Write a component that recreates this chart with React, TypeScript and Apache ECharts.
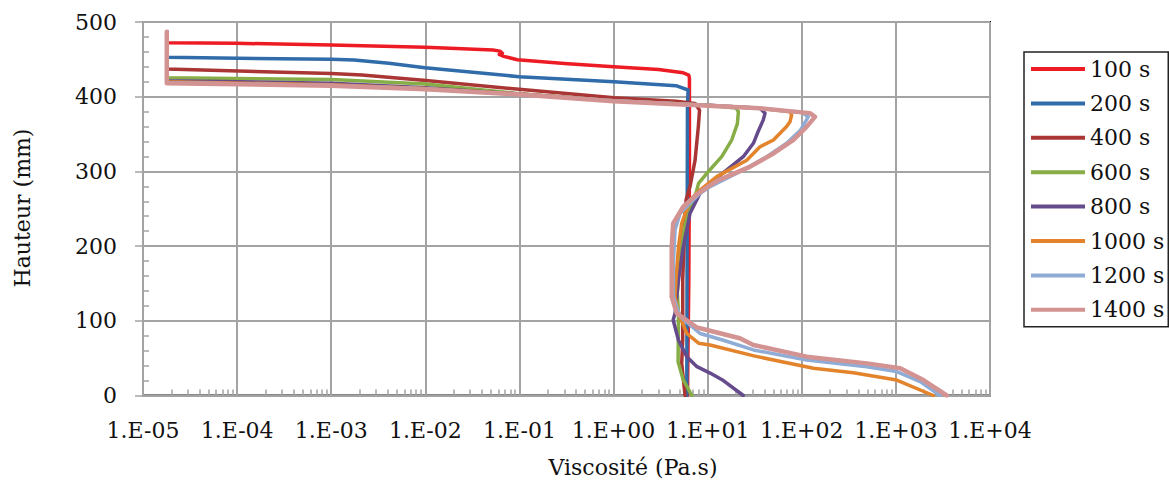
import React, { useEffect, useRef } from "react";
import * as echarts from "echarts";

const seriesNames = ["100 s", "200 s", "400 s", "600 s", "800 s", "1000 s", "1200 s", "1400 s"];
const seriesColors = ["#ED1C24", "#2F6CA9", "#A93634", "#86AD46", "#654A8C", "#E3842D", "#8EACD6", "#D39392"];

// [viscosity (Pa.s), height (mm)]
const s100 = [[1.79e-5, 487], [1.79e-5, 472.3], [9.7e-5, 471.5], [1.0e-3, 469.2], [1.0e-2, 466.1], [0.0524, 462.5], [0.062, 461], [0.066, 458], [0.061, 456.5], [0.068, 454], [0.095, 449.5], [0.3, 444.5], [1.0, 440], [3.0, 436.4], [5.5, 432], [6.3, 429], [6.4, 425], [6.4, 300], [6.3, 150], [6.1, 0]];
const s200 = [[1.79e-5, 487], [1.79e-5, 452.7], [1.0e-3, 450], [1.75e-3, 449], [4.1e-3, 444.7], [9.9e-3, 438.8], [0.099, 426.8], [1.01, 420], [4.6, 414.7], [6.2, 409], [6.1, 390], [6.05, 200], [6.0, 0]];
const s400 = [[1.79e-5, 487], [1.79e-5, 437], [1.0e-3, 431], [2.12e-3, 429], [9.5e-3, 422], [0.099, 410], [1.01, 398.6], [4.6, 394], [7.35, 391], [8.2, 382], [7.96, 360], [7.35, 315], [6.5, 280], [5.9, 262], [5.75, 244], [5.43, 155], [5.43, 74], [5.3, 43], [5.75, 0]];
const s600 = [[1.79e-5, 487], [1.79e-5, 425.5], [1e-3, 423], [1e-2, 417], [0.1, 404], [1, 394.5], [10, 388.5], [20, 385], [21.2, 380], [20.7, 364], [18, 342], [14.1, 319.7], [9.8, 297.5], [8.0, 284], [7.35, 266], [6.24, 244], [5.43, 217], [5.0, 181], [4.76, 137], [4.9, 110], [4.85, 45], [5.5, 20.8], [6.8, 0]];
const s800 = [[1.79e-5, 487], [1.79e-5, 421.5], [1e-3, 418], [1e-2, 412], [0.1, 403.5], [1, 394.5], [10, 388.5], [36, 384.5], [40.7, 378], [39, 369], [34, 352], [30.6, 337.6], [23.9, 319.7], [16, 302], [10.6, 284], [8.3, 270.7], [6.5, 244], [5.5, 199], [4.9, 155], [4.5, 110], [4.3, 101], [4.9, 74], [6.0, 52], [7.7, 38.6], [10.6, 30], [14.7, 20], [23.9, 0]];
const s1000 = [[1.79e-5, 487], [1.79e-5, 420], [1e-3, 416], [1e-2, 411], [0.1, 403.5], [1, 394.5], [10, 388.5], [36, 384.5], [75, 380], [78, 375.5], [75, 366.5], [69, 360], [50, 342], [36, 333], [26, 315], [12.5, 293], [8.3, 275], [6.5, 261.7], [5.3, 230.5], [4.9, 199], [4.6, 155], [4.5, 132], [4.9, 110], [6.0, 83], [8.0, 70], [10.6, 67.6], [31, 53], [133, 36.4], [353, 30.5], [1020, 20.7], [2500, 0]];
const s1200 = [[1.79e-5, 487], [1.79e-5, 419], [1e-3, 415], [1e-2, 410.5], [0.1, 403], [1, 394.5], [10, 388.5], [36, 384.5], [100, 379], [117, 373], [96.6, 355], [69, 337.6], [42.5, 319.7], [23.9, 302], [10.6, 279.5], [8.3, 270.7], [5.1, 244], [4.5, 221.5], [4.32, 177], [4.32, 132], [5.1, 105.5], [8.3, 83], [14.7, 74], [30.6, 61], [113, 47.5], [491, 38.6], [1020, 32], [1810, 18.5], [2950, 0]];
const s1400 = [[1.79e-5, 487], [1.79e-5, 418], [1e-3, 414.7], [1e-2, 410], [0.1, 403], [1, 394], [10.1, 388], [36, 384.5], [122, 378], [138, 373], [113, 360], [81, 342], [50, 324], [28, 306], [16, 293], [12.9, 288], [10.5, 281], [7.8, 270], [5.5, 252.7], [4.3, 230.5], [4.15, 199], [4.15, 132], [4.7, 110], [7.7, 91], [22, 76.6], [30.6, 67.6], [113, 52], [491, 43], [1110, 36.4], [1960, 20.7], [3470, 0]];

const seriesData = [s100, s200, s400, s600, s800, s1000, s1200, s1400];
const seriesWidths = [3.5, 3.5, 3.5, 3.5, 3.5, 3.5, 3.5, 4.5];

const xMin = 1e-5;
const xMax = 1e4;
const yMin = 0;
const yMax = 500;
const yInterval = 100;
const yMinorInterval = 20;

const xTitle = "Viscosité (Pa.s)";
const yTitle = "Hauteur (mm)";

const FONT = "DejaVu Serif";
const FS = 22;

function fmtX(v: number): string {
  const e = Math.round(Math.log10(v));
  return "1.E" + (e < 0 ? "-" : "+") + String(Math.abs(e)).padStart(2, "0");
}

export default function App() {
  const ref = useRef<HTMLDivElement>(null);
  useEffect(() => {
    if (!ref.current) return;
    const chart = echarts.init(ref.current, null, { renderer: "svg" });
    const gridCol = "#A3A3A3";
    chart.setOption({
      animation: false,
      backgroundColor: "#ffffff",
      textStyle: { fontFamily: FONT },
      grid: {
        left: 143,
        right: 179,
        top: 22,
        bottom: 90.5,
        show: true,
        borderColor: "#111",
        borderWidth: 2,
        backgroundColor: "transparent",
      },
      legend: {
        show: true,
        orient: "vertical",
        left: 1024,
        top: 52,
        data: seriesNames,
        icon: "rect",
        itemWidth: 54,
        itemHeight: 4,
        itemGap: 8.4,
        padding: [4, 4, 4, 7],
        borderColor: "#222",
        borderWidth: 1.5,
        textStyle: { fontFamily: FONT, fontSize: FS, color: "#111", lineHeight: 26 },
      },
      xAxis: {
        type: "log",
        logBase: 10,
        min: xMin,
        max: xMax,
        splitNumber: 9,
        axisLine: { show: true, lineStyle: { color: gridCol, width: 2 } },
        axisTick: { show: true, inside: true, length: 6, lineStyle: { color: gridCol, width: 1.5 } },
        minorTick: { show: true, splitNumber: 9, length: 6, lineStyle: { color: gridCol, width: 1.5 } },
        splitLine: { show: true, lineStyle: { color: gridCol, width: 2 } },
        axisLabel: {
          formatter: fmtX,
          fontFamily: FONT,
          fontSize: FS,
          color: "#111",
          margin: 24,
          showMinLabel: true,
          showMaxLabel: true,
          hideOverlap: false,
          interval: 0,
        },
      },
      yAxis: [
        {
          type: "value",
          min: yMin,
          max: yMax,
          interval: yInterval,
          axisLine: { show: true, lineStyle: { color: gridCol, width: 2 } },
          axisTick: { show: true, inside: false, length: 8, lineStyle: { color: gridCol, width: 1.5 } },
          splitLine: { show: true, lineStyle: { color: gridCol, width: 2 } },
          axisLabel: { fontFamily: FONT, fontSize: FS, color: "#111", margin: 26 },
        },
        {
          type: "value",
          min: yMin,
          max: yMax,
          interval: yMinorInterval,
          position: "left",
          axisLine: { show: false },
          axisTick: { show: true, inside: true, length: 6, lineStyle: { color: gridCol, width: 1.5 } },
          splitLine: { show: false },
          axisLabel: { show: false },
        },
      ],
      graphic: [
        {
          type: "text",
          x: 633,
          y: 467,
          style: { text: xTitle, fontFamily: FONT, fontSize: FS, fill: "#111", align: "center", verticalAlign: "middle" },
        },
        {
          type: "text",
          x: 22,
          y: 208,
          rotation: Math.PI / 2,
          style: { text: yTitle, fontFamily: FONT, fontSize: FS, fill: "#111", align: "center", verticalAlign: "middle" },
        },
      ],
      series: seriesNames.map((name, i) => ({
        name,
        type: "line",
        data: seriesData[i],
        yAxisIndex: 0,
        showSymbol: false,
        symbol: "none",
        smooth: false,
        color: seriesColors[i],
        lineStyle: { color: seriesColors[i], width: seriesWidths[i], cap: "round", join: "round" },
        z: 2 + i,
      })),
    });
    return () => chart.dispose();
  }, []);
  return <div ref={ref} style={{ position: "fixed", left: 0, top: 0, width: 1169, height: 486 }} />;
}
